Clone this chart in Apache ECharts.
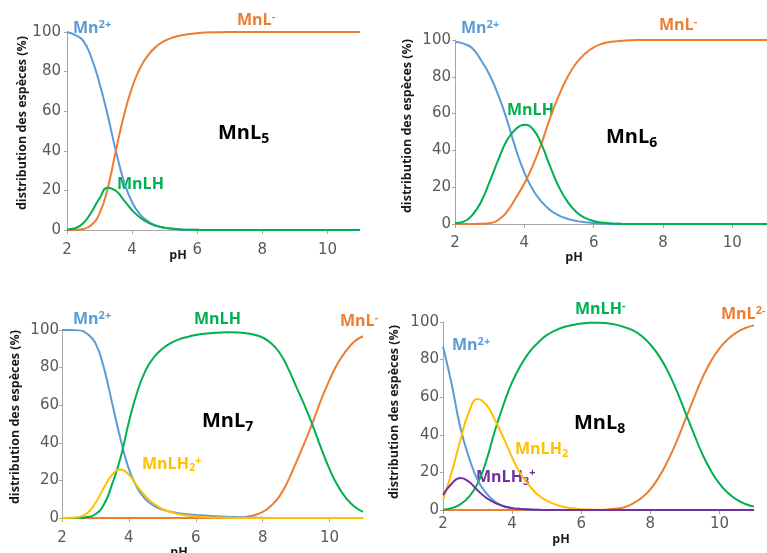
<!DOCTYPE html>
<html>
<head>
<meta charset="utf-8">
<script src="https://cdn.jsdelivr.net/npm/echarts@6/dist/echarts.min.js"></script>
<style>
  html, body { margin: 0; padding: 0; background: #fff; }
  #chart { width: 767px; height: 553px; }
</style>
</head>
<body>
<div id="chart"></div>
<script>
// pH grid shared by the four panels
var pH = [2, 2.25, 2.5, 2.75, 3, 3.25, 3.5, 3.75, 4, 4.25, 4.5, 4.75, 5, 5.25, 5.5, 5.75, 6, 6.25, 6.5, 6.75,
  7, 7.25, 7.5, 7.75, 8, 8.25, 8.5, 8.75, 9, 9.25, 9.5, 9.75, 10, 10.25, 10.5, 10.75, 11];
var xTicks = [2, 4, 6, 8, 10];
var yTicks = [0, 20, 40, 60, 80, 100];

// MnL5
var l5_Mn = [100, 98.5, 95.5, 87, 74, 58, 40, 24.5, 14, 7.8, 4.2, 2.2, 1.2, 0.6, 0.3, 0.15, 0.07,
  0, 0, 0, 0, 0, 0, 0, 0, 0, 0, 0, 0, 0, 0, 0, 0, 0, 0, 0, 0];
var l5_MnLH = [0.3, 0.9, 3.4, 9, 16, 21.4, 19.8, 15, 10, 6.2, 3.6, 2, 1.1, 0.6, 0.3, 0.15, 0.07,
  0, 0, 0, 0, 0, 0, 0, 0, 0, 0, 0, 0, 0, 0, 0, 0, 0, 0, 0, 0];
var l5_MnL = [0, 0.1, 0.5, 2.5, 8.4, 21, 40, 58, 72, 82, 88.5, 92.8, 95.5, 97.2, 98.3, 99, 99.4, 99.7, 99.85, 99.9,
  100, 100, 100, 100, 100, 100, 100, 100, 100, 100, 100, 100, 100, 100, 100, 100, 100];

// MnL6
var l6_Mn = [99, 98, 95.5, 89, 81, 70, 56.5, 41, 28, 18.5, 12, 7.5, 4.6, 2.8, 1.7, 1, 0.6, 0.3, 0.15, 0.07,
  0, 0, 0, 0, 0, 0, 0, 0, 0, 0, 0, 0, 0, 0, 0, 0, 0];
var l6_MnLH = [0.5, 1.3, 4.9, 12, 23, 35, 45.5, 51.5, 54, 51.5, 43, 31, 20, 12, 6.5, 3.3, 1.6, 0.8, 0.3, 0.1,
  0, 0, 0, 0, 0, 0, 0, 0, 0, 0, 0, 0, 0, 0, 0, 0, 0];
var l6_MnL = [0, 0, 0, 0.2, 0.4, 2.2, 6.7, 14, 22, 32, 44, 58, 70, 80, 87.5, 92.5, 96, 98, 99, 99.5, 99.8,
  100, 100, 100, 100, 100, 100, 100, 100, 100, 100, 100, 100, 100, 100, 100, 100];

// MnL7
var l7_Mn = [100, 100, 99.8, 98, 93, 80, 61, 42, 26, 16, 10, 6.5, 4.5, 3.3, 2.5, 2, 1.6, 1.3, 1, 0.8,
  0.6, 0.45, 0.3, 0.2, 0.1, 0, 0, 0, 0, 0, 0, 0, 0, 0, 0, 0, 0];
var l7_MnLH2 = [0, 0.1, 0.5, 2.5, 8, 16, 23, 25.8, 23, 17, 11.5, 7.5, 4.8, 3.2, 2, 1.3, 0.8, 0.5, 0.3, 0.2,
  0.1, 0, 0, 0, 0, 0, 0, 0, 0, 0, 0, 0, 0, 0, 0, 0, 0];
var l7_MnLH = [0, 0, 0.1, 0.5, 2, 7, 18, 32, 51, 67, 78.5, 85.5, 90, 93, 95, 96.3, 97.3, 98, 98.4, 98.7,
  98.8, 98.7, 98.3, 97.5, 96, 93, 88, 80, 70, 60, 49, 37, 26, 17, 10.5, 6, 3.3];
var l7_MnL = [0, 0, 0, 0, 0, 0, 0, 0, 0, 0, 0, 0, 0, 0, 0, 0, 0, 0, 0, 0,
  0, 0.2, 0.6, 1.5, 3.2, 6.5, 11.5, 19.5, 29.5, 40, 51, 63, 73.5, 82.5, 89, 94, 96.7];

// MnL8
var l8_Mn = [87, 67, 44, 28, 16, 9, 4.5, 2.2, 1, 0.5, 0.2, 0.1, 0, 0, 0, 0, 0, 0, 0, 0,
  0, 0, 0, 0, 0, 0, 0, 0, 0, 0, 0, 0, 0, 0, 0, 0, 0];
var l8_MnLH2 = [5.3, 20, 37, 52, 59, 56, 48, 38.5, 28, 19, 13, 8, 5, 3, 1.6, 0.9, 0.4, 0.2, 0.1, 0,
  0, 0, 0, 0, 0, 0, 0, 0, 0, 0, 0, 0, 0, 0, 0, 0, 0];
var l8_MnLH3 = [8, 14, 17, 15, 10.5, 6.5, 3.8, 2, 1, 0.5, 0.2, 0.1, 0, 0, 0, 0, 0, 0, 0, 0,
  0, 0, 0, 0, 0, 0, 0, 0, 0, 0, 0, 0, 0, 0, 0, 0, 0];
var l8_MnLH = [0.2, 1, 3, 7, 14, 26, 42, 56, 68, 77, 84, 89, 93, 95.5, 97.3, 98.4, 99.2, 99.6, 99.6, 99.3,
  98.6, 97.3, 95.5, 92.5, 88, 82, 74, 64, 52.5, 41, 30, 21, 14, 9, 5.5, 3.2, 1.8];
var l8_MnL = [0, 0, 0, 0, 0, 0, 0, 0, 0, 0, 0, 0, 0, 0, 0, 0, 0, 0, 0, 0.3,
  0.7, 1.5, 3.5, 6.5, 11, 17.5, 26, 36, 47.5, 59, 70, 79, 86, 91, 94.5, 96.8, 98.2];

var BLUE = '#5B9BD5', ORANGE = '#ED7D31', GREEN = '#00B050', YELLOW = '#FFC000', PURPLE = '#7030A0';

var myChart = echarts.init(document.getElementById('chart'));

// panel boxes: [left, top, width, height, xLabelMargin, yLabelMargin]
var panels = [
  [67, 32, 293, 198, 13, 6],
  [455, 40, 313, 184, 12, 4],
  [62, 330, 301, 188, 13, 3],
  [443, 322, 311, 188, 7, 4]
];

var grids = [], xAxes = [], yAxes = [];
panels.forEach(function (p, i) {
  grids.push({ left: p[0], top: p[1], width: p[2], height: p[3] });
  var axisLine = { show: true, lineStyle: { color: '#A6A6A6', width: 1 } };
  xAxes.push({
    type: 'value', gridIndex: i, min: 2, max: 11,
    axisLine: axisLine,
    axisTick: { show: true, length: 4, customValues: xTicks, lineStyle: { color: '#A6A6A6' } },
    axisLabel: { customValues: xTicks, margin: p[4], color: '#595959', fontSize: 15, fontFamily: 'DejaVu Sans' },
    splitLine: { show: false }
  });
  yAxes.push({
    type: 'value', gridIndex: i, min: 0, max: 100, interval: 20,
    axisLine: axisLine,
    axisTick: { show: true, length: 3, lineStyle: { color: '#A6A6A6' } },
    axisLabel: { margin: p[5], color: '#595959', fontSize: 15, fontFamily: 'DejaVu Sans' },
    splitLine: { show: false }
  });
});

function line(idx, arr, color) {
  return {
    type: 'line', xAxisIndex: idx, yAxisIndex: idx,
    data: pH.map(function (x, k) { return [x, arr[k]]; }),
    smooth: 0.5, symbol: 'none', clip: false,
    lineStyle: { color: color, width: 2 },
    silent: true
  };
}

var series = [
  line(0, l5_Mn, BLUE), line(0, l5_MnL, ORANGE), line(0, l5_MnLH, GREEN),
  line(1, l6_Mn, BLUE), line(1, l6_MnL, ORANGE), line(1, l6_MnLH, GREEN),
  line(2, l7_MnL, ORANGE), line(2, l7_Mn, BLUE), line(2, l7_MnLH, GREEN), line(2, l7_MnLH2, YELLOW),
  line(3, l8_MnL, ORANGE), line(3, l8_MnLH, GREEN), line(3, l8_Mn, BLUE), line(3, l8_MnLH2, YELLOW), line(3, l8_MnLH3, PURPLE)
];

// coloured species name with sub/superscripts
function tag(x, y, text, color, size, lh, subOff) {
  return {
    type: 'text', x: x, y: y, silent: true,
    style: {
      text: text, fill: color, fontSize: size, fontWeight: 'bold', fontFamily: 'Open Sans',
      align: 'left', verticalAlign: 'middle', lineHeight: lh,
      rich: {
        sup: { fill: color, fontSize: 11, fontWeight: 'bold', fontFamily: 'Open Sans', lineHeight: 10, verticalAlign: 'top' },
        sub: { fill: color, fontSize: subOff ? 14 : 11, fontWeight: 'bold', fontFamily: 'Open Sans', lineHeight: 10, verticalAlign: 'bottom' }
      }
    }
  };
}

function plain(x, y, text, rot) {
  return {
    type: 'text', x: x, y: y, rotation: rot || 0, silent: true,
    style: {
      text: text, fill: '#1a1a1a', fontSize: 12.5, fontWeight: 'bold', fontFamily: 'Open Sans',
      align: 'center', verticalAlign: 'middle'
    }
  };
}

var yTitle = 'distribution des espèces (%)';

var graphics = [
  plain(22, 123, yTitle, Math.PI / 2), plain(178, 255, 'pH'),
  plain(407, 126, yTitle, Math.PI / 2), plain(574, 257, 'pH'),
  plain(15, 417, yTitle, Math.PI / 2), plain(179, 552, 'pH'),
  plain(394, 412, yTitle, Math.PI / 2), plain(561, 539, 'pH'),

  tag(73, 28, 'Mn{sup|2+}', BLUE, 16, 18),
  tag(237, 20, 'MnL{sup|-}', ORANGE, 16, 18),
  tag(117, 184, 'MnLH', GREEN, 16, 18),
  tag(218, 133, 'MnL{sub|5}', '#000000', 20, 26, true),

  tag(461, 28, 'Mn{sup|2+}', BLUE, 16, 18),
  tag(659, 25, 'MnL{sup|-}', ORANGE, 16, 18),
  tag(507, 110, 'MnLH', GREEN, 16, 18),
  tag(606, 137, 'MnL{sub|6}', '#000000', 20, 26, true),

  tag(73, 319, 'Mn{sup|2+}', BLUE, 16, 18),
  tag(194, 319, 'MnLH', GREEN, 16, 18),
  tag(340, 321, 'MnL{sup|-}', ORANGE, 16, 18),
  tag(202, 421, 'MnL{sub|7}', '#000000', 20, 26, true),
  tag(142, 464, 'MnLH{sub|2}{sup|+}', YELLOW, 16, 18),

  tag(575, 309, 'MnLH{sup|-}', GREEN, 16, 18),
  tag(721, 314, 'MnL{sup|2-}', ORANGE, 16, 18),
  tag(452, 345, 'Mn{sup|2+}', BLUE, 16, 18),
  tag(515, 449, 'MnLH{sub|2}', YELLOW, 16, 20),
  tag(476, 477, 'MnLH{sub|3}{sup|+}', PURPLE, 16, 20),
  tag(574, 423, 'MnL{sub|8}', '#000000', 20, 26, true)
];

myChart.setOption({
  animation: false,
  backgroundColor: '#ffffff',
  grid: grids,
  xAxis: xAxes,
  yAxis: yAxes,
  series: series,
  graphic: { elements: graphics }
});
</script>
</body>
</html>
